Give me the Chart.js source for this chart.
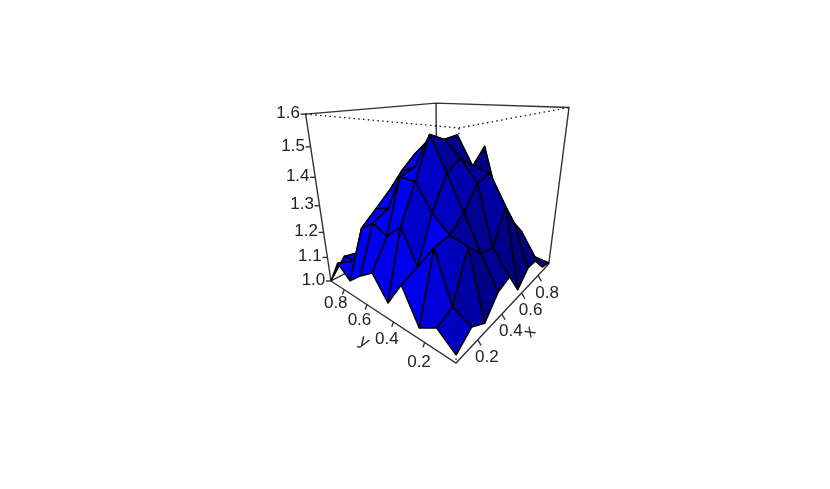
<!DOCTYPE html>
<html>
<head>
<meta charset="utf-8">
<style>
  html, body { margin: 0; padding: 0; background: #fff; }
  /* the reference is a slightly soft, resampled picture */
  canvas { display: block; filter: blur(0.4px); }
</style>
<script src="https://cdn.jsdelivr.net/npm/chart.js@4"></script>
</head>
<body>
<canvas id="chart" width="830" height="489"></canvas>
<script>
// Tick labels
const xTicks = [0.2, 0.4, 0.6, 0.8];
const yTicks = [0.2, 0.4, 0.6, 0.8];
const zTicks = [1.0, 1.1, 1.2, 1.3, 1.4, 1.5, 1.6];

// Axis ranges of the box
const xRange = [0.05, 0.95];
const yRange = [0.03, 0.93];
const zRange = [1.0, 1.6];

// Surface heights, one list per x grid step, y grid runs along each list
const z0 = [1.027, 1.077, 1.040, 1.154, 1.061, 1.140, 1.103, 1.056, 1.101, 1.000];
const z1 = [1.069, 1.102, 1.264, 1.179, 1.289, 1.239, 1.265, 1.229, 1.077, 1.074];
const z2 = [1.035, 1.260, 1.276, 1.327, 1.411, 1.414, 1.294, 1.279, 1.090, 1.060];
const z3 = [1.102, 1.209, 1.322, 1.432, 1.540, 1.432, 1.408, 1.330, 1.150, 1.060];
const z4 = [1.119, 1.199, 1.396, 1.465, 1.516, 1.510, 1.456, 1.330, 1.210, 1.060];
const z5 = [1.032, 1.314, 1.414, 1.426, 1.522, 1.480, 1.420, 1.330, 1.210, 1.060];
const z6 = [1.083, 1.234, 1.294, 1.480, 1.372, 1.360, 1.330, 1.270, 1.150, 1.048];
const z7 = [1.083, 1.174, 1.213, 1.300, 1.300, 1.270, 1.240, 1.180, 1.090, 1.030];
const z8 = [1.020, 1.054, 1.120, 1.150, 1.180, 1.150, 1.120, 1.090, 1.060, 1.018];
const z9 = [1.005, 1.012, 1.018, 1.030, 1.030, 1.030, 1.030, 1.024, 1.012, 1.000];
const zRows = [z0, z1, z2, z3, z4, z5, z6, z7, z8, z9];

// Perspective of the box: u, v, w are 0..1 inside it
function project(u, v, w) {
    const d = 1 + 0.535 * u + 0.43 * v - 0.256 * w;
    return {
        x: (456 + 386.3 * u + 17.3 * v - 114.5 * w) / d,
        y: (363 + 42.2 * u + 38.8 * v - 267.8 * w) / d
    };
}

const toU = x => (x - xRange[0]) / (xRange[1] - xRange[0]);
const toV = y => (y - yRange[0]) / (yRange[1] - yRange[0]);
const toW = z => (z - zRange[0]) / (zRange[1] - zRange[0]);

const lastX = zRows.length - 1;
const lastY = z0.length - 1;

// Corner of a facet on screen
function gridPoint(i, j) {
    return project(i / lastX, j / lastY, toW(zRows[i][j]));
}

// Light comes from the front left, same idea as persp(shade=)
function facetColor(i, j) {
    const a = toW(zRows[i][j]), b = toW(zRows[i + 1][j]);
    const c = toW(zRows[i + 1][j + 1]), d = toW(zRows[i][j + 1]);
    const dwdu = ((b - a) + (c - d)) / 2 * lastX;
    const dwdv = ((d - a) + (c - b)) / 2 * lastY;
    const len = Math.sqrt(dwdu * dwdu + dwdv * dwdv + 1);
    const n = [-dwdu / len, -dwdv / len, 1 / len];
    const l = [-0.7, 0.5, 0.5];
    const dot = n[0] * l[0] + n[1] * l[1] + n[2] * l[2];
    const shade = Math.min(1, 0.25 + 0.75 * (1 + dot) / 2);
    return 'rgb(0,0,' + Math.round(255 * shade) + ')';
}

function lineSet(points, dash, color, width) {
    return {
        data: points,
        showLine: true,
        fill: false,
        borderColor: color || '#333',
        borderWidth: width || 1.4,
        borderDash: dash || [],
        pointRadius: 0,
        tension: 0
    };
}

const datasets = [];

// First dataset ends up on top, so nearest things go in first
const topF = project(0, 0, 1), topL = project(0, 1, 1), topR = project(1, 0, 1), topB = project(1, 1, 1);
const lowF = project(0, 0, 0), lowL = project(0, 1, 0), lowR = project(1, 0, 0), lowB = project(1, 1, 0);

// Dotted front edges of the box lie over the surface
datasets.push(lineSet([topL, topF, topR], [1.5, 3.3], '#111', 1.3));
datasets.push(lineSet([topF, lowF], [1.5, 3.3], '#111', 1.3));

// Ticks
xTicks.forEach(t => {
    const p = project(toU(t), 0, 0);
    datasets.push(lineSet([p, { x: p.x + 3.3, y: p.y + 5.7 }]));
});
yTicks.forEach(t => {
    const p = project(0, toV(t), 0);
    datasets.push(lineSet([p, { x: p.x - 1.8, y: p.y + 4.8 }]));
});
zTicks.forEach(t => {
    const p = project(0, 1, toW(t));
    datasets.push(lineSet([p, { x: p.x - 5, y: p.y }]));
});

// Solid front edges
datasets.push(lineSet([lowL, lowF, lowR]));

// Facets, front corner first
const facets = [];
for (let i = 0; i < lastX; i++) {
    for (let j = 0; j < lastY; j++) {
        facets.push({ i: i, j: j });
    }
}
facets.sort((a, b) => (a.i + a.j) - (b.i + b.j));
facets.forEach(f => {
    const first = gridPoint(f.i, f.j);
    datasets.push({
        data: [first, gridPoint(f.i + 1, f.j), gridPoint(f.i + 1, f.j + 1), gridPoint(f.i, f.j + 1), first],
        showLine: true,
        fill: 'shape',
        backgroundColor: facetColor(f.i, f.j),
        borderColor: '#000',
        borderWidth: 1.5,
        borderJoinStyle: 'round',
        pointRadius: 0,
        tension: 0
    });
});

// Back of the box, behind everything
datasets.push(lineSet([lowL, topL, topB, topR, lowR]));
datasets.push(lineSet([topB, lowB]));
datasets.push(lineSet([lowL, lowB, lowR]));

// Tick labels and axis names as real text
const boxText = {
    id: 'boxText',
    afterDraw(chart) {
        const ctx = chart.ctx;
        const sx = chart.scales.x, sy = chart.scales.y;
        const put = (text, x, y, angle) => {
            ctx.save();
            ctx.translate(sx.getPixelForValue(x), sy.getPixelForValue(y));
            ctx.rotate((angle || 0) * Math.PI / 180);
            ctx.fillText(text, 0, 0);
            ctx.restore();
        };
        ctx.save();
        ctx.font = '17px "Liberation Sans", Arial, sans-serif';
        ctx.fillStyle = '#222';
        ctx.textAlign = 'center';
        ctx.textBaseline = 'middle';
        xTicks.forEach(t => {
            const p = project(toU(t), 0, 0);
            put(t.toFixed(1), p.x + 9, p.y + 17.5);
        });
        yTicks.forEach(t => {
            const v = toV(t);
            const p = project(0, v, 0);
            put(t.toFixed(1), p.x - 5 - 4 * v, p.y + 21.5 - 9.5 * v);
        });
        zTicks.forEach(t => {
            const p = project(0, 1, toW(t));
            put(t.toFixed(1), p.x - 17.5, p.y - 1);
        });
        put('x', 530, 332, -47);
        put('y', 364, 342, 33);
        ctx.restore();
    }
};

new Chart(document.getElementById('chart'), {
    type: 'scatter',
    data: { datasets: datasets },
    options: {
        responsive: false,
        animation: false,
        layout: { padding: 0 },
        plugins: { legend: { display: false }, tooltip: { enabled: false } },
        scales: {
            x: { type: 'linear', display: false, min: 0, max: 830 },
            y: { type: 'linear', display: false, min: 0, max: 489, reverse: true }
        }
    },
    plugins: [boxText]
});
</script>
</body>
</html>
